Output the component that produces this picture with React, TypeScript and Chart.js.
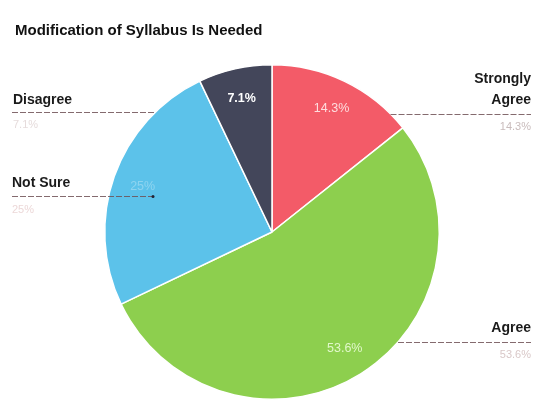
import React, { useEffect, useRef } from "react";
import { Chart, registerables } from "chart.js";

Chart.register(...registerables);

const TITLE = "Modification of Syllabus Is Needed";
const categories = ["Strongly Agree", "Agree", "Not Sure", "Disagree"];
const values = [14.3, 53.6, 25, 7.1];
const percentLabels = ["14.3%", "53.6%", "25%", "7.1%"];
const colors = ["#f35b68", "#8dcf4e", "#5cc2ea", "#43465a"];
const innerLabelColors = ["rgba(255,235,235,0.9)", "rgba(240,255,225,0.85)", "rgba(255,255,255,0.3)", "#ffffff"];

const outsidePlugin = {
  id: "outsideLabels",
  afterDraw(chart: any) {
    const ctx = chart.ctx;
    const meta = chart.getDatasetMeta(0);
    const arc0 = meta.data[0];
    const cx = arc0.x;
    const cy = arc0.y;
    const r = arc0.outerRadius;
    ctx.save();

    // title
    ctx.font = "bold 15px 'Liberation Sans', Arial, sans-serif";
    ctx.fillStyle = "#111";
    ctx.textAlign = "left";
    ctx.textBaseline = "middle";
    ctx.fillText(TITLE, 15, 31);

    // inner labels
    meta.data.forEach((arc: any, i: number) => {
      const mid = (arc.startAngle + arc.endAngle) / 2;
      const d = r * 0.82;
      const x = cx + Math.cos(mid) * d;
      const y = cy + Math.sin(mid) * d;
      ctx.font = (i === 3 ? "bold " : "") + "12.5px 'Liberation Sans', Arial, sans-serif";
      ctx.fillStyle = innerLabelColors[i];
      ctx.textAlign = "center";
      ctx.textBaseline = "middle";
      ctx.fillText(percentLabels[i], x, y);
    });

    const edgeX = (y: number, side: number) => {
      const dy = y - cy;
      return cx + side * Math.sqrt(Math.max(0, r * r - dy * dy));
    };

    const drawLine = (x1: number, x2: number, y: number) => {
      ctx.strokeStyle = "rgba(110,80,85,0.85)";
      ctx.lineWidth = 1;
      ctx.setLineDash([6, 2]);
      ctx.beginPath();
      ctx.moveTo(x1, y + 0.5);
      ctx.lineTo(x2, y + 0.5);
      ctx.stroke();
      ctx.setLineDash([]);
    };

    const labelFont = "bold 14px 'Liberation Sans', Arial, sans-serif";
    const pctFont = "11px 'Liberation Sans', Arial, sans-serif";
    const W = chart.width;
    const rightX = W - 10;
    // Strongly Agree (right)
    ctx.font = labelFont;
    ctx.fillStyle = "#1a1a1a";
    ctx.textAlign = "right";
    ctx.fillText("Strongly", rightX, 79);
    ctx.fillText("Agree", rightX, 100);
    drawLine(edgeX(114, 1), rightX, 114);
    ctx.font = pctFont;
    ctx.fillStyle = "#c9bcbc";
    ctx.fillText(percentLabels[0], rightX, 127);

    // Agree (right)
    ctx.font = labelFont;
    ctx.fillStyle = "#1a1a1a";
    ctx.fillText("Agree", rightX, 328);
    drawLine(edgeX(342, 1), rightX, 342);
    ctx.font = pctFont;
    ctx.fillStyle = "#d9c8c8";
    ctx.fillText(percentLabels[1], rightX, 355);

    // Disagree (left)
    ctx.textAlign = "left";
    ctx.font = labelFont;
    ctx.fillStyle = "#1a1a1a";
    ctx.fillText("Disagree", 13, 100);
    drawLine(12, edgeX(112, -1), 112);
    ctx.font = pctFont;
    ctx.fillStyle = "#e6dcdc";
    ctx.fillText(percentLabels[3], 13, 125);

    // Not Sure (left)
    ctx.font = labelFont;
    ctx.fillStyle = "#1a1a1a";
    ctx.fillText("Not Sure", 12, 183);
    drawLine(12, 155, 196);
    ctx.fillStyle = "#223";
    ctx.beginPath();
    ctx.arc(153, 196.5, 1.5, 0, Math.PI * 2);
    ctx.fill();
    ctx.font = pctFont;
    ctx.fillStyle = "#ecd8d8";
    ctx.fillText(percentLabels[2], 12, 210);

    ctx.restore();
  },
};

export default function App() {
  const ref = useRef<HTMLCanvasElement | null>(null);
  useEffect(() => {
    if (!ref.current) return;
    const chart = new Chart(ref.current, {
      type: "pie",
      data: {
        labels: categories,
        datasets: [
          {
            data: values,
            backgroundColor: colors,
            borderColor: "#ffffff",
            borderWidth: 1.5,
          },
        ],
      },
      options: {
        animation: false,
        responsive: false,
        maintainAspectRatio: false,
        layout: { padding: { top: 64, bottom: 6, left: 104, right: 101 } },
        plugins: {
          legend: { display: false },
          tooltip: { enabled: false },
          title: { display: false },
        },
      },
      plugins: [outsidePlugin],
    });
    return () => chart.destroy();
  }, []);
  return (
    <div style={{ position: "fixed", left: 0, top: 0, width: 541, height: 406, background: "#fff" }}>
      <canvas ref={ref} width={541} height={406} style={{ width: 541, height: 406 }} />
    </div>
  );
}
